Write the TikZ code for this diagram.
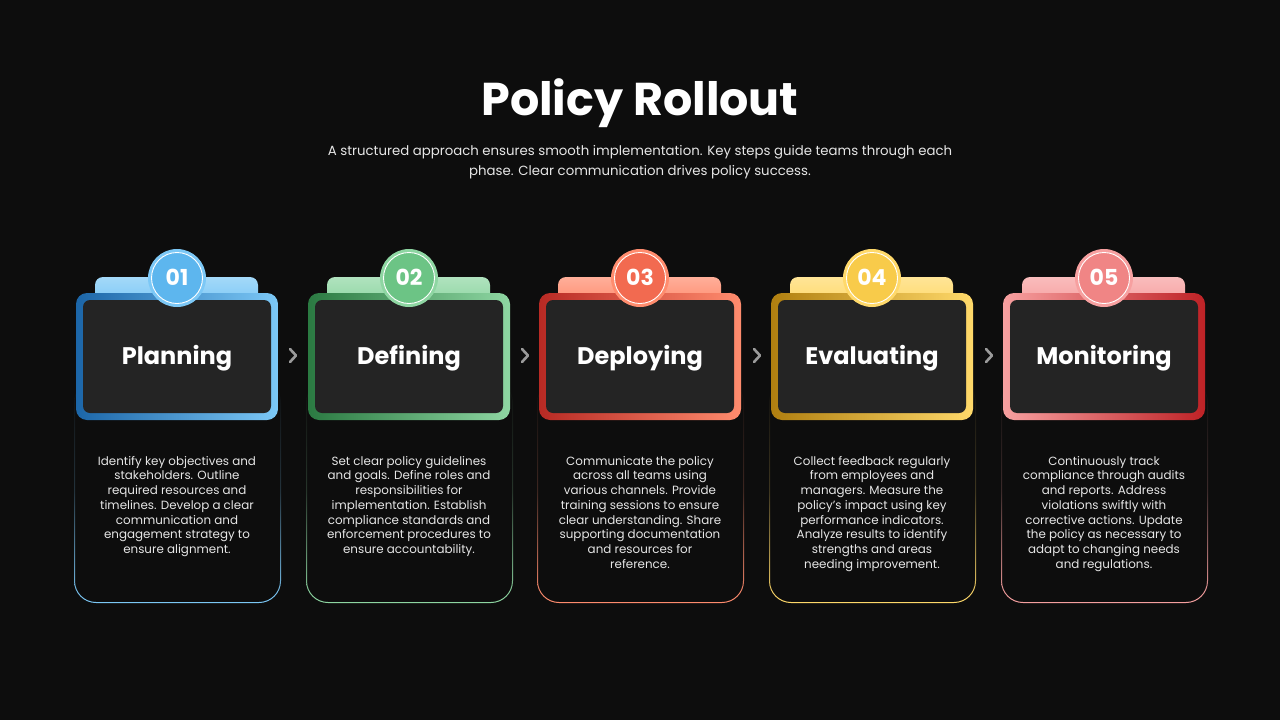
\documentclass[tikz,border=0pt]{standalone}
\usepackage{fontspec}
\setmainfont{Poppins}
\usetikzlibrary{calc}
\definecolor{bg}{HTML}{0D0D0D}
\definecolor{inner}{HTML}{242424}
\definecolor{chev}{HTML}{9A9A9A}
\definecolor{txt}{HTML}{E6E6E6}
% card 1 blue
\definecolor{aL}{HTML}{7CC8F6}\definecolor{aD}{HTML}{1C66A8}\definecolor{aC}{HTML}{5DB6EE}
% card 2 green
\definecolor{bL}{HTML}{8ED6A2}\definecolor{bD}{HTML}{2B7A42}\definecolor{bC}{HTML}{6CC485}
% card 3 red-orange
\definecolor{cL}{HTML}{FF8C6E}\definecolor{cD}{HTML}{B82A24}\definecolor{cC}{HTML}{F26A50}
% card 4 yellow
\definecolor{dL}{HTML}{FFD96A}\definecolor{dD}{HTML}{B07F10}\definecolor{dC}{HTML}{F8CB4A}
% card 5 pink
\definecolor{eL}{HTML}{F7A0A0}\definecolor{eD}{HTML}{BE2226}\definecolor{eC}{HTML}{F08585}
\tikzset{
  titletext/.style={text=white,font=\fontsize{46}{50}\selectfont\bfseries},
  subtext/.style={text=txt,font=\fontsize{13.3}{20}\selectfont,align=center},
  headtext/.style={text=white,font=\fontsize{24}{28}\selectfont\bfseries},
  numtext/.style={text=white,font=\fontsize{22}{24}\selectfont\bfseries},
  bodytext/.style={text=txt,font=\fontsize{11.9}{14.7}\selectfont,align=center,anchor=north,inner sep=0pt},
  chevron/.style={draw=chev,line width=2.6pt,line cap=round,line join=round},
}
% #1 id, #2 center x, #3 left frame colour, #4 right frame colour, #5 light, #6 circle, #7 number, #8 title
\newcommand\stepcard[8]{%
  % lower box outline
  \shade[even odd rule,top color=bg,bottom color=#5,middle color=bg!80!#5]
    (#2-103,380) [rounded corners=22pt] rectangle (#2+104,603)
    (#2-102,381) [rounded corners=21pt] rectangle (#2+103,602);
  % tab
  \shade[rounded corners=8pt,top color=#5!70!white,bottom color=#5] (#2-82,277) rectangle (#2+81,305);
  % frame
  \shade[rounded corners=11pt,left color=#3,right color=#4] (#2-101,293) rectangle (#2+101,420);
  \fill[inner,rounded corners=7pt] (#2-94,300) rectangle (#2+94,413);
  % badge
  \fill[#5] (#2,278) circle (29);
  \fill[#6] (#2,278) circle (25.5);
  \draw[white,line width=0.9pt] (#2,278) circle (25.5);
  \node[numtext] (n#1) at (#2,277) {#7};
  \node[headtext] (h#1) at (#2,358) {#8};
}
\begin{document}
\begin{tikzpicture}[x=1pt,y=-1pt]
\fill[bg] (0,0) rectangle (1280,720);
\useasboundingbox (0,0) rectangle (1280,720);

\node[titletext] (title) at (640,103) {Policy Rollout};
\node[subtext] (sub) at (640,162) {A structured approach ensures smooth implementation. Key steps guide teams through each\\phase. Clear communication drives policy success.};

\stepcard{1}{177}{aD}{aL}{aL}{aC}{01}{Planning}
\stepcard{2}{409}{bD}{bL}{bL}{bC}{02}{Defining}
\stepcard{3}{640}{cD}{cL}{cL}{cC}{03}{Deploying}
\stepcard{4}{872}{dD}{dL}{dL}{dC}{04}{Evaluating}
\stepcard{5}{1104}{eL}{eD}{eL}{eC}{05}{Monitoring}

\node[bodytext] (t1) at (177,456) {Identify key objectives and\\stakeholders. Outline\\required resources and\\timelines. Develop a clear\\communication and\\engagement strategy to\\ensure alignment.};
\node[bodytext] (t2) at (409,456) {Set clear policy guidelines\\and goals. Define roles and\\responsibilities for\\implementation. Establish\\compliance standards and\\enforcement procedures to\\ensure accountability.};
\node[bodytext] (t3) at (640,456) {Communicate the policy\\across all teams using\\various channels. Provide\\training sessions to ensure\\clear understanding. Share\\supporting documentation\\and resources for\\reference.};
\node[bodytext] (t4) at (872,456) {Collect feedback regularly\\from employees and\\managers. Measure the\\policy’s impact using key\\performance indicators.\\Analyze results to identify\\strengths and areas\\needing improvement.};
\node[bodytext] (t5) at (1104,456) {Continuously track\\compliance through audits\\and reports. Address\\violations swiftly with\\corrective actions. Update\\the policy as necessary to\\adapt to changing needs\\and regulations.};

\foreach \x in {293,525,757,989}{
  \draw[chevron] (\x-3,349) -- (\x+3,355.5) -- (\x-3,362);
}
\end{tikzpicture}
\end{document}
